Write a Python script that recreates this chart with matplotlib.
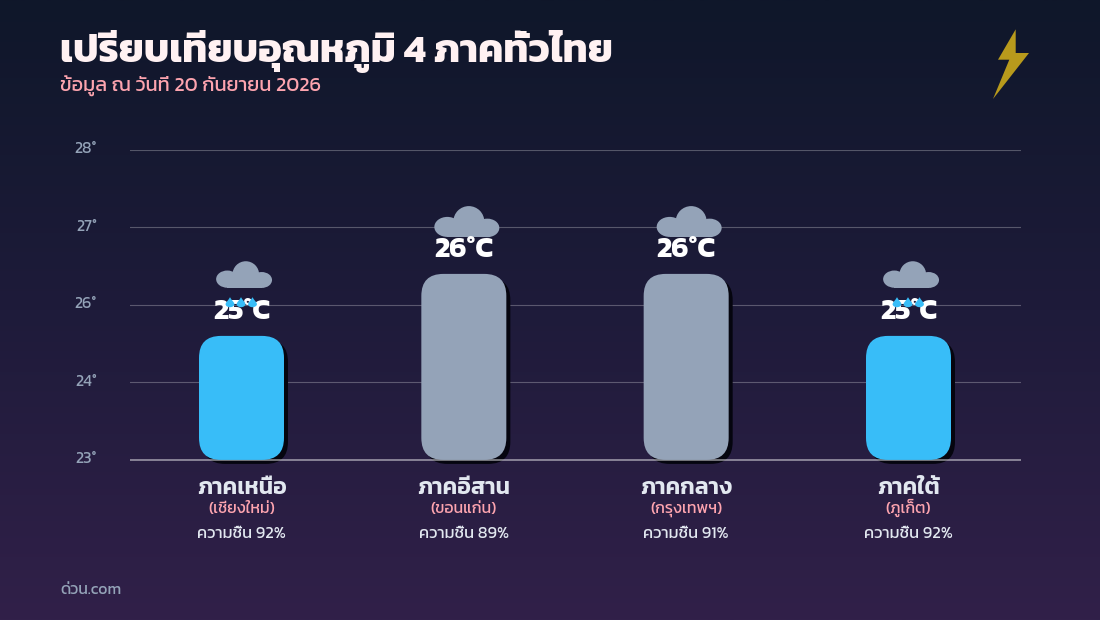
import numpy as np
import matplotlib
matplotlib.use('Agg')
import matplotlib.pyplot as plt
from matplotlib.patches import FancyBboxPatch, Circle, Ellipse, Rectangle, Polygon, PathPatch
from matplotlib.path import Path
from matplotlib.transforms import Affine2D
from matplotlib.colors import LinearSegmentedColormap

regions = ['ภาคเหนือ', 'ภาคอีสาน', 'ภาคกลาง', 'ภาคใต้']
cities = ['(เชียงใหม่)', '(ขอนแก่น)', '(กรุงเทพฯ)', '(ภูเก็ต)']
temps = [25, 26, 26, 25]
humidity = [92, 89, 91, 92]
conditions = ['rain', 'cloud', 'cloud', 'rain']
y_ticks = [23, 24.25, 25.5, 26.75, 28]
y_tick_labels = ['23°', '24°', '26°', '27°', '28°']
title = 'เปรียบเทียบอุณหภูมิ 4 ภาคทั่วไทย'
subtitle = 'ข้อมูล ณ วันที่ 20 กันยายน 2026'
footer = 'ด่วน.com'

W, H = 1100, 620
FONT = ['Kanit', 'DejaVu Sans']
BLUE, GREY = '#38bdf8', '#94a3b8'
def px(v):
    return v * 0.72

fig = plt.figure(figsize=(W / 100, H / 100), dpi=100)
bg = fig.add_axes([0, 0, 1, 1], zorder=0)
bg.axis('off')
cmap = LinearSegmentedColormap.from_list('bg', ['#0f172a', '#1e1b3a', '#312049'])
bg.imshow(np.linspace(0, 1, 256)[:, None], aspect='auto', cmap=cmap, extent=[0, 1, 0, 1])

ax = fig.add_axes([130 / W, 1 - 459.9 / H, 891 / W, 310 / H], zorder=1)
ax.patch.set_alpha(0)
ax.set_xlim(-0.5015, 3.506)
ax.set_ylim(23, 28)
for s in ax.spines.values():
    s.set_visible(False)
ax.set_xticks([])
ax.set_yticks(y_ticks, y_tick_labels, fontsize=px(16), color=GREY, family=FONT)
ax.tick_params(axis='y', length=0, pad=px(33))
for lab in ax.get_yticklabels():
    lab.set_transform(lab.get_transform() + Affine2D().translate(0, 2))
for t in y_ticks[1:]:
    ax.axhline(t, color='#ffffff', alpha=0.27, lw=0.8, zorder=1)
ax.axhline(23, color='#ffffff', alpha=0.45, lw=1.4, zorder=2.5, clip_on=False, solid_capstyle='butt')

band_px = 222.33
yu_px = 310 / 5
bar_w = 85 / band_px
rnd = 22 / band_px
asp = band_px / yu_px

def rounded_bar(i, v, color, z, dx=0.0, dy=0.0):
    x0 = i - bar_w / 2 + dx / band_px
    y0 = 23 - dy / yu_px
    p = FancyBboxPatch((x0, y0), bar_w, v - 23,
                       boxstyle=f'round,pad=0,rounding_size={rnd}',
                       mutation_aspect=asp, fc=color, ec='none', zorder=z, clip_on=False)
    ax.add_patch(p)

def drop_path():
    verts = [(0, -5.2), (1.6, -2.2), (4.4, 0), (4.4, 1.8), (4.4, 3.6), (2.2, 4.8), (0, 4.8), (-2.2, 4.8), (-4.4, 3.6), (-4.4, 1.8),
             (-4.4, 0), (-1.6, -2.2), (0, -5.2), (0, -5.2)]
    codes = [Path.MOVETO] + [Path.CURVE4] * 12 + [Path.CLOSEPOLY]
    return Path(verts, codes)

def cloud(cx, cy, s):
    tr = Affine2D().scale(s, -s).translate(cx, cy)
    parts = [Circle((5, 0.2), 15.5), Ellipse((-16.5, 5.5), 26, 20), Ellipse((23.5, 6.5), 24, 18.5),
             Rectangle((-16.5, 4.5), 40, 11.2)]
    for p in parts:
        p.set(fc=GREY, ec='none', zorder=4, transform=tr, clip_on=False)
        ax.add_artist(p)

for i, (v, c) in enumerate(zip(temps, conditions)):
    color = BLUE if c == 'rain' else GREY
    rounded_bar(i, v, '#05050f', 2, dx=4, dy=4)
    rounded_bar(i, v, color, 3)
    dx, dy = ax.transData.transform((i, v))
    if c == 'rain':
        cloud(dx, dy + 61.5, 0.86)
    else:
        cloud(dx, dy + 52.5, 1.0)
    ax.annotate(f'{v}°C', (i, v), xytext=(0, px(17)), textcoords='offset points',
                ha='center', va='baseline', color='white', fontsize=px(29),
                fontweight=700, family=FONT, zorder=5, annotation_clip=False)
    if c == 'rain':
        for off in (-11.5, -0.5, 11):
            tr = Affine2D().scale(1, -1).translate(dx + off, dy + 33.5)
            ax.add_artist(PathPatch(drop_path(), fc=BLUE, ec='none', zorder=6, transform=tr, clip_on=False))
    xf = dx / W
    fig.text(xf, 1 - 494.5 / H, regions[i], ha='center', va='baseline', color='#e2e8f0',
             fontsize=px(23), fontweight=600, family=FONT, zorder=5)
    fig.text(xf, 1 - 513 / H, cities[i], ha='center', va='baseline', color='#fda4af',
             fontsize=px(16), fontweight=400, family=FONT, zorder=5)
    fig.text(xf, 1 - 537.5 / H, f'ความชื้น {humidity[i]}%', ha='center', va='baseline', color='#e2e8f0',
             fontsize=px(16.5), fontweight=400, family=FONT, zorder=5)

fig.text(60 / W, 1 - 62 / H, title, color='#fff1f2', fontsize=px(39.8), fontweight=700, family=FONT, va='baseline')
fig.text(60 / W, 1 - 92 / H, subtitle, color='#fda4af', fontsize=px(20), fontweight=400, family=FONT, va='baseline')
fig.text(60 / W, 1 - 593.5 / H, footer, color=GREY, fontsize=px(16), fontweight=400, family=FONT, va='baseline')

bolt = np.array([(1015.7, 29.3), (1015.7, 53), (1029, 53), (993, 99), (1009.3, 59.7), (998, 59.7)])
bg.add_patch(Polygon(np.c_[bolt[:, 0] / W, 1 - bolt[:, 1] / H], closed=True, fc='#b89a1c', ec='none',
                     transform=bg.transAxes, zorder=3))

fig.savefig('out.png', dpi=100)
